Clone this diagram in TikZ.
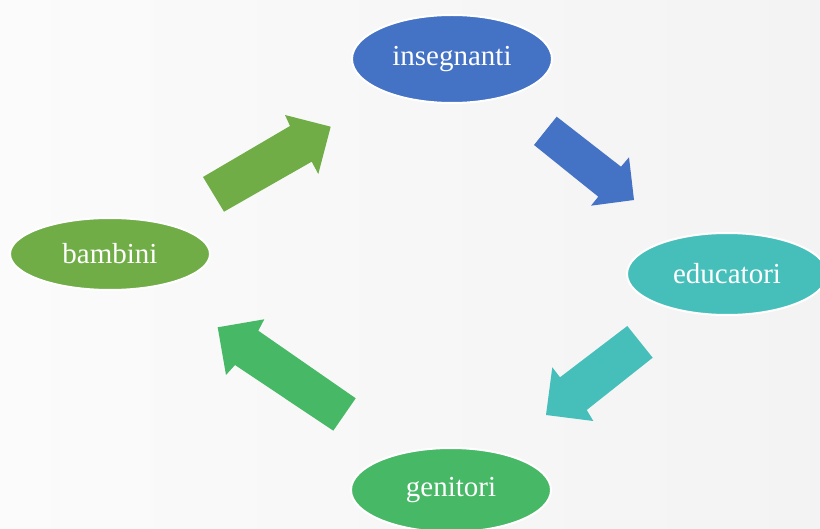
\documentclass[tikz,border=0pt]{standalone}
\usepackage{fontspec}
\setmainfont{Liberation Serif}
\usetikzlibrary{shapes.geometric}
\definecolor{bgL}{HTML}{FBFBFB}
\definecolor{bgR}{HTML}{F3F3F3}
\definecolor{cBlue}{HTML}{4472C4}
\definecolor{cTeal}{HTML}{46BFBB}
\definecolor{cGreen}{HTML}{47B866}
\definecolor{cLime}{HTML}{70AD47}
\tikzset{
  bubble/.style={ellipse, draw=white, line width=2pt, text=white, font=\fontsize{29}{33}\selectfont, inner sep=0pt},
  blockarrow/.style={draw=none}
}
\begin{document}
\begin{tikzpicture}[x=1pt,y=-1pt]
\useasboundingbox (0,0) rectangle (820,529);
\clip (0,0) rectangle (820,529);
\shade[left color=bgL, right color=bgR] (0,0) rectangle (820,529);

\node[bubble, fill=cBlue, minimum width=200pt, minimum height=88pt] (ins) at (452,59) {insegnanti};
\node[bubble, fill=cTeal, minimum width=200pt, minimum height=82pt] (edu) at (727,274) {educatori};
\node[bubble, fill=cGreen, minimum width=200pt, minimum height=84pt] (gen) at (451,490) {genitori};
\node[bubble, fill=cLime, minimum width=200pt, minimum height=72pt] (bam) at (110,254) {bambini};

% bambini -> insegnanti
\fill[blockarrow, cLime] (203,177) -- (224,211.7) -- (311.7,161.7) -- (318.3,174) -- (330.7,126.7) -- (285,115) -- (290,126) -- cycle;
% insegnanti -> educatori
\fill[blockarrow, cBlue] (556.7,116.7) -- (534,145) -- (598.3,196.7) -- (591,205.7) -- (634,200) -- (629,157.3) -- (621,166.7) -- cycle;
% educatori -> genitori
\fill[blockarrow, cTeal] (627.3,326) -- (652.7,357.7) -- (586.7,410) -- (593.3,421) -- (546,415) -- (552.3,367.3) -- (560,377.3) -- cycle;
% genitori -> bambini
\fill[blockarrow, cGreen] (355.7,398.3) -- (333.3,430.7) -- (235,365) -- (226,375) -- (217.7,327.3) -- (264.3,319.3) -- (258.3,330.7) -- cycle;
\end{tikzpicture}
\end{document}
